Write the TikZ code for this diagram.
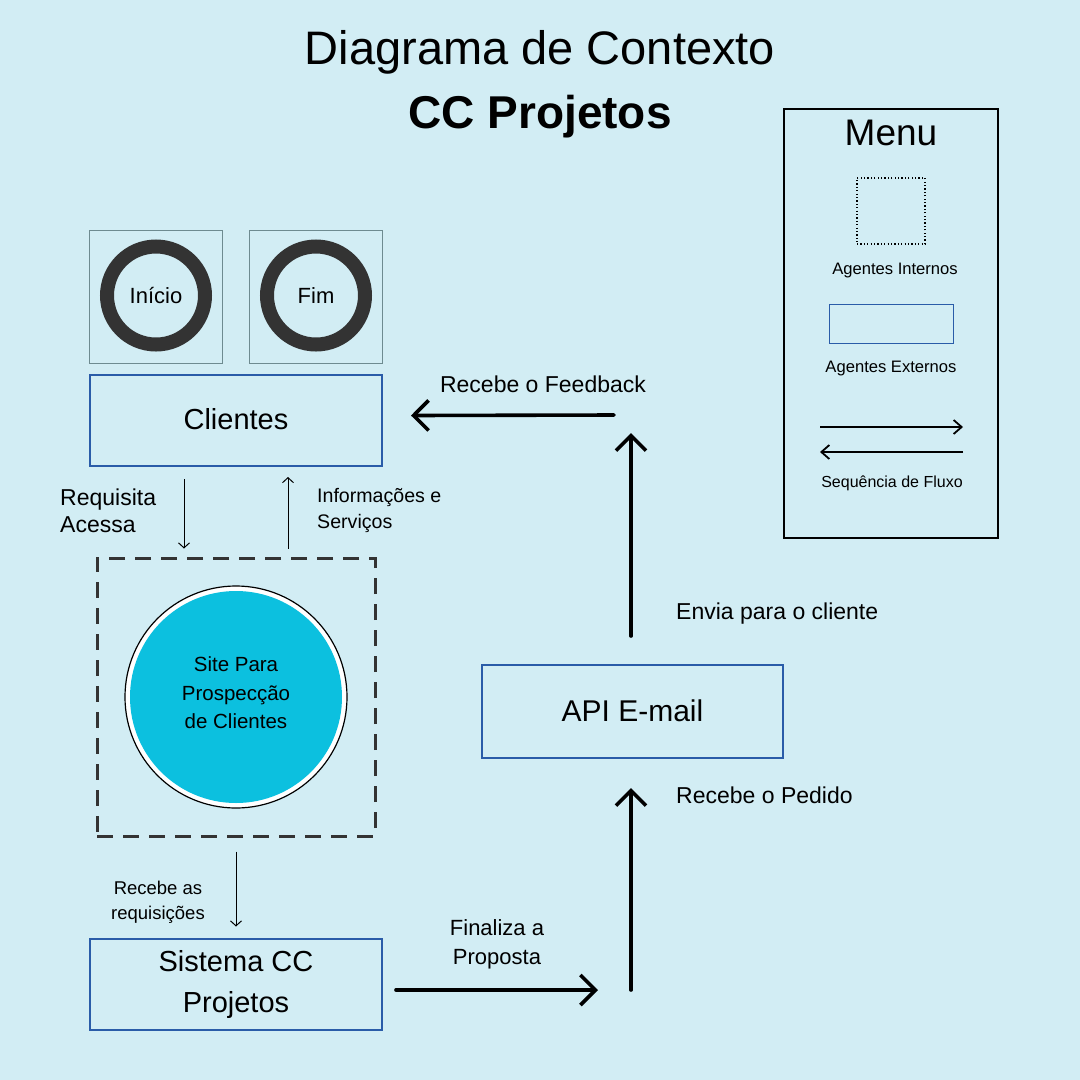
\documentclass[tikz,border=0pt]{standalone}
\usepackage{fontspec}
\setmainfont{Liberation Sans}
\usetikzlibrary{arrows.meta,positioning}
\definecolor{bgblue}{HTML}{D2EDF4}
\definecolor{boxblue}{HTML}{2A5CA8}
\definecolor{sitecyan}{HTML}{0CC0DF}
\definecolor{ringgray}{HTML}{333333}
\definecolor{framegray}{HTML}{6E8B90}
\newcommand{\fsz}[2]{\fontsize{#1}{#2}\selectfont}

\begin{document}
\begin{tikzpicture}[x=1pt,y=-1pt,
  ext/.style={draw=boxblue,line width=2pt,minimum width=292pt,minimum height=91pt,align=center,inner sep=0pt,font=\fsz{29}{41}},
  startbox/.style={draw=framegray,line width=0.8pt,minimum size=133pt,inner sep=0pt},
  ring/.style={circle,draw=ringgray,line width=14pt,minimum size=98pt,inner sep=0pt,font=\fsz{22}{26}},
  lbl/.style={align=center,inner sep=0pt},
  thinarr/.style={-{Straight Barb[length=5pt,width=11pt]},line width=1pt},
  flow/.style={-{Straight Barb[length=15pt,width=30pt]},line width=3.6pt,line cap=round},
  legarr/.style={-{Straight Barb[length=8pt,width=14pt]},line width=1.8pt}]
\useasboundingbox[fill=bgblue] (0,0) rectangle (1080,1080);

% titulo
\node[lbl,anchor=base,font=\fsz{47}{50}] (titulo) at (540,64) {Diagrama de Contexto};
\node[lbl,anchor=base,font=\bfseries\fsz{46}{50}] (subtitulo) at (540,128) {CC Projetos};

% inicio e fim
\node[startbox] (ini) at (156,296.5) {};
\node[startbox,right=26pt of ini] (fim) {};
\node[ring] (inicirc) at (156,295.5) {Início};
\node[ring] (fimcirc) at (316,295.5) {Fim};

% agentes
\node[ext] (cli) at (236,420.5) {\raisebox{3pt}{Clientes}};
\node[draw=ringgray,line width=3pt,dash pattern=on 16pt off 10pt,minimum size=278pt] (sitearea) at (236,697) {};
\node[circle,draw=black,fill=white,line width=1.2pt,minimum size=222pt] (siteout) at (sitearea) {};
\node[circle,fill=sitecyan,minimum size=212pt,inner sep=0pt] (site) at (sitearea) {};
\node[lbl,font=\fsz{20.5}{28.5}] (sitet) at (236,693) {Site Para\\Prospecção\\de Clientes};
\node[ext] (sis) at (236,984) {Sistema CC\\Projetos};
\node[ext,minimum width=301pt,minimum height=93pt,font=\fsz{30}{36}] (api) at (632.5,711.5) {\raisebox{2pt}{API E-mail}};

% fluxos finos
\draw[thinarr] ([xshift=-52pt,yshift=-12pt]cli.south) -- ([xshift=-52pt,yshift=8pt]sitearea.north);
\draw[thinarr] ([xshift=52pt,yshift=8pt]sitearea.north) -- ([xshift=52pt,yshift=-10pt]cli.south);
\draw[thinarr] ([yshift=-14pt]sitearea.south) -- ([yshift=11pt]sis.north);
\node[lbl,anchor=west,align=left,font=\fsz{23}{27}] (req) at (60,510.5) {Requisita\\Acessa};
\node[lbl,anchor=west,align=left,font=\fsz{19.6}{26}] (info) at (317,510) {Informações e\\Serviços};
\node[lbl,font=\fsz{18.5}{25}] (reqsis) at (158,902.5) {Recebe as\\requisições};

% fluxos grossos
\coordinate (propend) at (598,990);
\coordinate (pedbase) at (631,990);
\coordinate (envtop) at (631,433);
\coordinate (fbstart) at (614,415);
\draw[flow] ([xshift=13pt,yshift=-6pt]sis.east) -- (propend);
\draw[flow] (pedbase) -- ([xshift=-1.5pt,yshift=-29pt]api.south);
\draw[flow] ([xshift=-1.5pt,yshift=28pt]api.north) -- (envtop);
\draw[flow] (fbstart) -- ([xshift=28pt,yshift=5pt]cli.east);
\node[lbl,font=\fsz{22}{29}] (prop) at (497,944) {Finaliza a\\Proposta};
\node[lbl,anchor=west,font=\fsz{23}{27}] (ped) at (676,795) {Recebe o Pedido};
\node[lbl,anchor=west,font=\fsz{23}{27}] (env) at (676,614) {Envia para o cliente};
\node[lbl,font=\fsz{23}{27}] (fb) at (543,384) {Recebe o Feedback};

% legenda
\node[draw=black,line width=2pt,minimum width=214pt,minimum height=429pt] (menu) at (891,323.5) {};
\node[lbl,font=\fsz{37}{40}] (menut) at (891,133) {Menu};
\node[draw=black,line width=1.2pt,dash pattern=on 1.2pt off 2.2pt,minimum width=68pt,minimum height=66pt] (legint) at (891,211) {};
\node[lbl,font=\fsz{16.6}{20}] (legintt) at (895,271) {Agentes Internos};
\node[draw=boxblue,line width=1pt,minimum width=124pt,minimum height=39pt] (legext) at (891,323.5) {};
\node[lbl,font=\fsz{16.6}{20}] (legextt) at (891,369) {Agentes Externos};
\coordinate (legaw) at (820,427);
\coordinate (legae) at (963,427);
\coordinate (legbw) at (820,452);
\coordinate (legbe) at (963,452);
\draw[legarr] (legaw) -- (legae);
\draw[legarr] (legbe) -- (legbw);
\node[lbl,font=\fsz{16}{20}] (legflt) at (892,483) {Sequência de Fluxo};
\end{tikzpicture}
\end{document}
